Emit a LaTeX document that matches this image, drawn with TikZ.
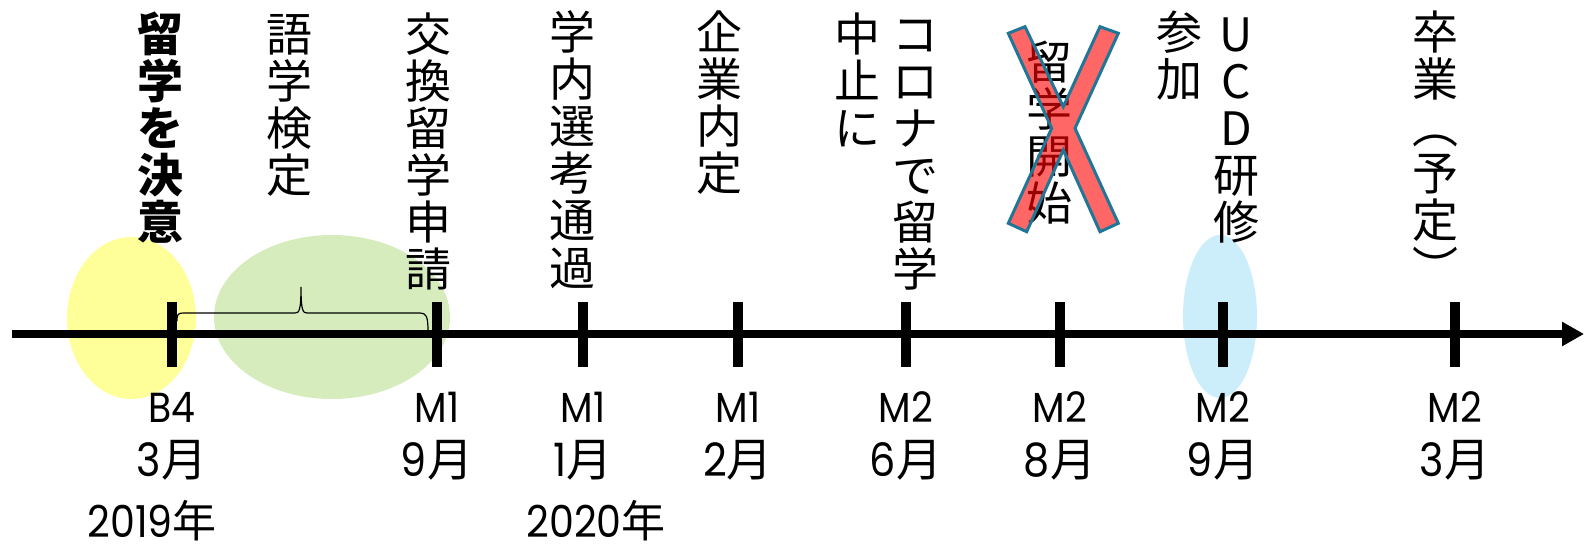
\documentclass[tikz,border=0pt]{standalone}
\usepackage{fontspec}
\newfontfamily\cjk{Noto Sans CJK JP}
\newfontfamily\lat[FakeStretch=0.9]{Poppins}
\usetikzlibrary{arrows.meta}
\definecolor{yel}{RGB}{255,255,153}
\definecolor{grn}{RGB}{214,236,189}
\definecolor{blu}{RGB}{204,238,250}
\definecolor{xedge}{RGB}{31,118,150}
\tikzset{
  vch/.style={font=\cjk\fontsize{46}{47}\selectfont, anchor=base, inner sep=0pt},
  grade/.style={font=\lat\fontsize{42}{42}\selectfont, anchor=base, inner sep=0pt},
  month/.style={font=\lat\fontsize{46}{46}\selectfont, anchor=base, inner sep=0pt},
  yearlabel/.style={font=\lat\fontsize{44}{44}\selectfont, anchor=base, inner sep=0pt, text depth=0pt},
  tickmark/.style={line width=10pt},
  axisline/.style={line width=8pt, -{Triangle[length=22pt,width=23pt]}},
  bracepath/.style={line width=1.2pt},
  crossmark/.style={draw=xedge, line width=3pt, fill=red, fill opacity=0.6, line join=miter}
}
\newcommand\vcol[5][]{%
  \foreach \ch [count=\i from 0] in {#5} {\node[vch,#1] (#2-\i) at ({#3},{#4+47*\i}) {\ch};}}
\begin{document}
\begin{tikzpicture}[x=1pt,y=-1pt]
\useasboundingbox (0,0) rectangle (1584,545);
% background ellipses
\fill[yel] (131.5,318) ellipse [x radius=64.5, y radius=81];
\fill[grn] (332,317) ellipse [x radius=118, y radius=82];
\fill[blu] (1220,316.5) ellipse [x radius=37, y radius=81.5];
% brace
\coordinate (brl) at (177,321);
\coordinate (brr) at (428,331);
\draw[bracepath] (brl) .. controls (177,314) and (178,313) .. (184,313) -- (295,313)
  .. controls (299,313) and (301,311) .. (301,287)
  .. controls (301,311) and (303,313) .. (307,313) -- (420,313)
  .. controls (426,313) and (428,316) .. (brr);
% axis
\coordinate (axs) at (12,334);
\coordinate (axe) at (1584,334);
\draw[axisline] (axs) -- (axe);
% ticks
\foreach \n/\x in {1/172,2/437,3/583,4/738,5/906,6/1060,7/1223,8/1455}{
  \coordinate (t\n) at (\x,334);
  \draw[tickmark] (t\n) ++(0,-32) -- ++(0,65);
}
% vertical labels
\vcol[font=\cjk\bfseries\fontsize{46}{47}\selectfont]{a}{160}{52}{留,学,を,決,意}
\vcol{b}{289}{52}{語,学,検,定}
\vcol{c}{428}{52}{交,換,留,学,申,請}
\vcol{d}{572}{50}{学,内,選,考,通,過}
\vcol{e}{719}{50}{企,業,内,定}
\vcol{f}{857}{52}{中,止,に}
\vcol{g}{915}{52}{コ,ロ,ナ,で,留,学}
\vcol{h}{1049}{80}{留,学,開,始}
\vcol{i}{1179}{50}{参,加}
\vcol{j}{1236}{52}{U,C,D,研,修}
\vcol{k}{1435}{50}{卒,業,︵,予,定,︶}
% cross
\filldraw[crossmark] (1008.3,33.3) -- (1025,26.7) -- (1063.3,106.7) -- (1100,26.7) -- (1118.3,33.3)
  -- (1075,128.3) -- (1118.3,223.3) -- (1100,231.7) -- (1063.3,150) -- (1026.7,231.7)
  -- (1008.3,223.3) -- (1051.7,128.3) -- cycle;
% bottom labels
\foreach \n/\x/\g/\m in {1/172/B4/3,2/437/M1/9,3/583/M1/1,4/738/M1/2,5/906/M2/6,6/1060/M2/8,7/1223/M2/9,8/1455/M2/3}{
  \node[grade] (g\n) at (\x,422) {\g};
  \node[month] (m\n) at (\x,476) {\m\cjk 月};
}
\node[yearlabel] (y1) at (152,537) {2019\cjk 年};
\node[yearlabel] (y2) at (596,537) {2020\cjk 年};
\end{tikzpicture}
\end{document}
